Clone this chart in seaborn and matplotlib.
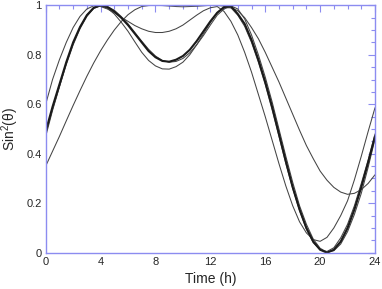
import numpy as np
import pandas as pd
import matplotlib
matplotlib.use("Agg")
import matplotlib.pyplot as plt
import seaborn as sns
from matplotlib.ticker import MultipleLocator, FuncFormatter

# half-hourly values (t = 0, 0.5, ..., 24 h)
hours = [i * 0.5 for i in range(49)]
curve_a = [0.60, 0.70, 0.78, 0.85, 0.91, 0.955, 0.985, 0.998, 0.995, 0.985,
           0.97, 0.952, 0.935, 0.918, 0.905, 0.895, 0.89, 0.89, 0.895, 0.905,
           0.92, 0.94, 0.96, 0.978, 0.99, 0.995, 0.975, 0.935, 0.88, 0.81,
           0.73, 0.64, 0.55, 0.455, 0.36, 0.27, 0.19, 0.125, 0.08, 0.053,
           0.046, 0.062, 0.10, 0.15, 0.21, 0.295, 0.39, 0.49, 0.586]
curve_b = [0.49, 0.59, 0.68, 0.77, 0.85, 0.912, 0.96, 0.99, 1.0, 0.993,
           0.975, 0.95, 0.92, 0.885, 0.85, 0.815, 0.79, 0.775, 0.772, 0.78,
           0.795, 0.82, 0.855, 0.895, 0.935, 0.97, 0.993, 0.997, 0.965, 0.925,
           0.86, 0.78, 0.69, 0.59, 0.48, 0.37, 0.265, 0.175, 0.10, 0.045,
           0.012, 0.0, 0.012, 0.045, 0.10, 0.175, 0.265, 0.365, 0.47]
curve_c = [0.48, 0.58, 0.67, 0.76, 0.84, 0.905, 0.955, 0.987, 0.998, 0.995,
           0.98, 0.955, 0.925, 0.89, 0.855, 0.822, 0.795, 0.777, 0.77, 0.773,
           0.785, 0.808, 0.84, 0.878, 0.92, 0.96, 0.985, 0.998, 0.985, 0.945,
           0.88, 0.80, 0.71, 0.61, 0.50, 0.39, 0.285, 0.19, 0.115, 0.055,
           0.018, 0.002, 0.008, 0.035, 0.085, 0.155, 0.24, 0.345, 0.46]
curve_e = [0.47, 0.575, 0.67, 0.765, 0.845, 0.91, 0.96, 0.99, 0.998, 0.988,
           0.965, 0.932, 0.895, 0.852, 0.81, 0.777, 0.755, 0.743, 0.742, 0.752,
           0.77, 0.80, 0.84, 0.885, 0.93, 0.97, 0.99, 0.99, 0.96, 0.915,
           0.85, 0.77, 0.68, 0.578, 0.47, 0.36, 0.26, 0.17, 0.095, 0.04,
           0.012, 0.005, 0.02, 0.06, 0.115, 0.19, 0.28, 0.375, 0.48]
curve_d = [0.35, 0.41, 0.47, 0.533, 0.595, 0.655, 0.713, 0.767, 0.816, 0.86,
           0.90, 0.934, 0.962, 0.982, 0.995, 0.999, 1.0, 0.999, 0.997, 0.995,
           0.994, 0.995, 0.996, 0.998, 1.0, 0.999, 0.997, 0.99, 0.978, 0.95,
           0.91, 0.865, 0.81, 0.75, 0.69, 0.625, 0.56, 0.495, 0.433, 0.38,
           0.33, 0.293, 0.264, 0.245, 0.236, 0.24, 0.255, 0.28, 0.315]

sns.set_style("white")
plt.rcParams['font.family'] = ['Liberation Sans', 'DejaVu Sans']
plt.rcParams['mathtext.fontset'] = 'custom'
plt.rcParams['mathtext.rm'] = 'Liberation Sans'

fig = plt.figure(figsize=(3.82, 2.89), dpi=100)
ax = fig.add_axes([0.1196, 0.1256, 0.8621, 0.8561])

for vals in [curve_a, curve_c, curve_e, curve_d]:
    sns.lineplot(x=hours, y=vals, ax=ax, color='#444444', lw=0.75)
sns.lineplot(x=hours, y=curve_b, ax=ax, color='#1a1a1a', lw=1.5)

ax.set_xlim(0, 24)
ax.set_ylim(0, 1)
ax.xaxis.set_major_locator(MultipleLocator(4))
ax.xaxis.set_minor_locator(MultipleLocator(1))
ax.yaxis.set_major_locator(MultipleLocator(0.2))
ax.yaxis.set_minor_locator(MultipleLocator(0.05))
ax.yaxis.set_major_formatter(FuncFormatter(lambda v, p: '%g' % round(v, 2)))

blue = '#8c8cf0'
for s in ax.spines.values():
    s.set_color(blue)
    s.set_linewidth(1.0)
ax.tick_params(which='both', direction='in', top=True, right=True, color=blue,
               labelsize=8, pad=3)
ax.tick_params(which='major', length=5, width=0.8)
ax.tick_params(which='minor', length=3, width=0.8)

ax.set_xlabel('Time (h)', fontsize=10)
ax.set_ylabel('Sin$^2$(θ)', fontsize=10)

fig.savefig('out.png', dpi=100)
